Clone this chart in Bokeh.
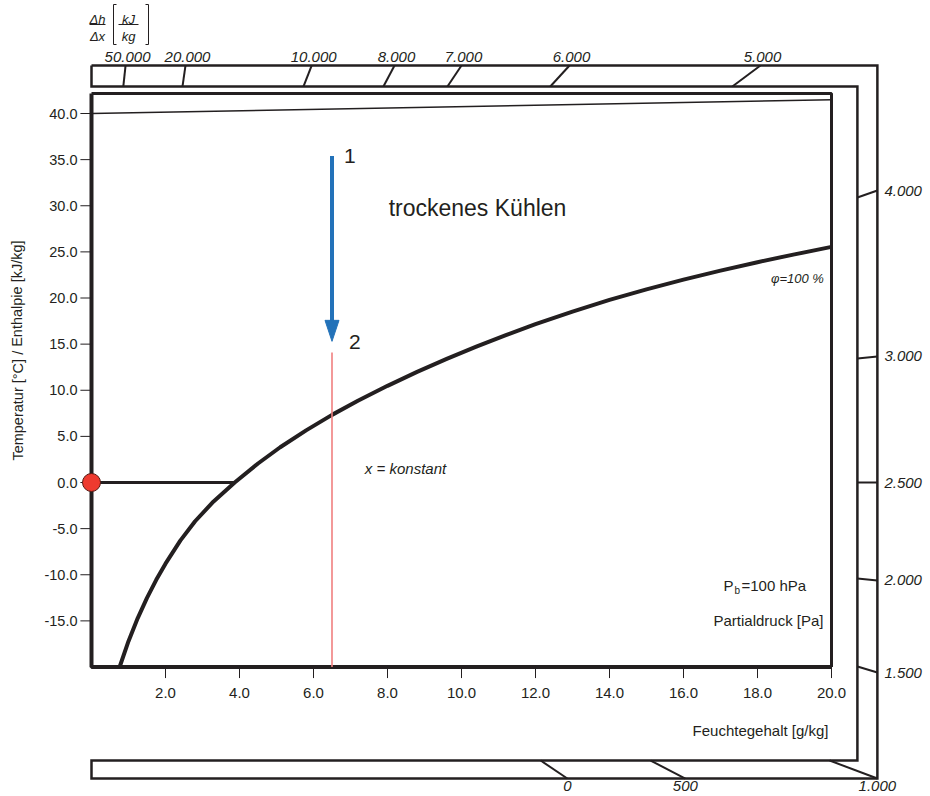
from bokeh.plotting import figure
from bokeh.models import Range1d
from bokeh.embed import file_html
from bokeh.resources import INLINE
from bokeh.core.properties import value

DARK = "#231f20"
FONT = value("Liberation Sans")

# ---------------- data ----------------
x_ticks = [2.0, 4.0, 6.0, 8.0, 10.0, 12.0, 14.0, 16.0, 18.0, 20.0]
x_tick_labels = ["2.0", "4.0", "6.0", "8.0", "10.0", "12.0", "14.0", "16.0", "18.0", "20.0"]
y_ticks = [40.0, 35.0, 30.0, 25.0, 20.0, 15.0, 10.0, 5.0, 0.0, -5.0, -10.0, -15.0]
y_tick_labels = ["40.0", "35.0", "30.0", "25.0", "20.0", "15.0", "10.0", "5.0", "0.0",
                 "-5.0", "-10.0", "-15.0"]

# saturation line phi = 100 %
sat_x = [0.76, 1.0, 1.25, 1.5, 1.75, 2.0, 2.4, 2.8, 3.3, 3.87, 4.5, 5.1, 5.8, 6.5, 7.2,
         8.0, 8.8, 9.6, 10.4, 11.2, 12.0, 13.0, 14.0, 15.0, 16.0, 17.0, 18.0, 19.0, 20.0]
sat_y = [-20.0, -17.2, -14.7, -12.5, -10.55, -8.8, -6.3, -4.2, -2.05, 0.0, 2.06, 3.82, 5.65,
         7.33, 8.86, 10.48, 11.99, 13.4, 14.73, 15.98, 17.16, 18.53, 19.79, 20.94, 21.99,
         22.97, 23.88, 24.73, 25.54]

# line at the top of the chart
top_line_x = [0.0, 20.0]
top_line_y = [40.0, 41.5]

# 0 degC line
zero_line_x = [0.0, 3.87]
zero_line_y = [0.0, 0.0]
zero_point_x = [0.0]
zero_point_y = [0.0]

# process 1 -> 2 (dry cooling, x = const)
state_x = 6.5
state1_y = 35.4
state2_y = 15.3
const_line_top = 14.1

# frame limits
x_min, x_max = 0.0, 20.0
y_min, y_max = -20.0, 42.17

# edge scales
top_scale_labels = ["50.000", "20.000", "10.000", "8.000", "7.000", "6.000", "5.000"]
top_scale_x0 = [0.86, 2.46, 5.73, 7.89, 9.62, 12.40, 17.32]
top_scale_x1 = [0.92, 2.54, 5.95, 8.19, 10.00, 12.92, 18.08]
right_scale_labels = ["4.000", "3.000", "2.500", "2.000", "1.500"]
right_scale_y0 = [30.9, 13.44, 0.0, -10.4, -19.95]
right_scale_y1 = [31.65, 13.66, 0.0, -10.62, -20.6]
bottom_scale_labels = ["0", "500", "1.000"]
bottom_scale_x0 = [12.14, 15.11, 19.95]
bottom_scale_x1 = [12.86, 16.05, 21.24]

# band geometry (data units)
band_top_outer, band_top_inner = 45.2, 42.93
band_right_inner, band_right_outer = 20.70, 21.24
band_bot_inner, band_bot_outer = -30.14, -32.09

# ---------------- figure ----------------
W, H = 930, 796
SX, SY = 37.0, 9.225          # px per data unit
X0, Y0 = 91.0, 482.0          # canvas px of data origin

def px(xpix):
    return (xpix - X0) / SX

def py(ypix):
    return (Y0 - ypix) / SY

p = figure(width=W, height=H, output_backend="svg", toolbar_location=None,
           x_range=Range1d(-X0 / SX, (W - X0) / SX),
           y_range=Range1d((Y0 - H) / SY, Y0 / SY),
           x_axis_location=None, y_axis_location=None, min_border=0)
p.outline_line_color = None
p.grid.visible = False
p.background_fill_color = "white"
p.border_fill_color = "white"

# outer scale bands
bx = [x_min, band_right_outer, band_right_outer, x_min, x_min,
      band_right_inner, band_right_inner, x_min, x_min]
by = [band_top_outer, band_top_outer, band_bot_outer, band_bot_outer, band_bot_inner,
      band_bot_inner, band_top_inner, band_top_inner, band_top_outer]
p.line(bx, by, line_color=DARK, line_width=2.5, line_join="miter")

# top scale ticks + labels
p.segment(x0=top_scale_x0, y0=[band_top_inner] * len(top_scale_x0),
          x1=top_scale_x1, y1=[band_top_outer] * len(top_scale_x1),
          line_color=DARK, line_width=2)
p.text(x=top_scale_x1, y=[band_top_outer] * len(top_scale_x1), text=top_scale_labels,
       text_font=FONT, text_font_style="italic", text_font_size="15px",
       text_color=DARK, text_align="center", text_baseline="bottom", y_offset=-4,
       x_offset=2)

# right scale ticks + labels
p.segment(x0=[band_right_inner] * len(right_scale_y0), y0=right_scale_y0,
          x1=[band_right_outer] * len(right_scale_y1), y1=right_scale_y1,
          line_color=DARK, line_width=2)
p.text(x=[band_right_outer] * len(right_scale_y1), y=right_scale_y1, text=right_scale_labels,
       text_font=FONT, text_font_style="italic", text_font_size="15px",
       text_color=DARK, text_align="left", text_baseline="middle", x_offset=7)

# bottom scale ticks + labels
p.segment(x0=bottom_scale_x0, y0=[band_bot_inner] * len(bottom_scale_x0),
          x1=bottom_scale_x1, y1=[band_bot_outer] * len(bottom_scale_x1),
          line_color=DARK, line_width=2)
p.text(x=bottom_scale_x1, y=[band_bot_outer] * len(bottom_scale_x1), text=bottom_scale_labels,
       text_font=FONT, text_font_style="italic", text_font_size="15px",
       text_color=DARK, text_align="center", text_baseline="top", y_offset=2)

# dh/dx unit label
p.text(x=[px(97), px(97)], y=[py(19), py(28)], text=["Δh", "Δx"],
       text_font=FONT, text_font_style="italic", text_font_size="13px",
       text_color=DARK, text_align="center", text_baseline=["alphabetic", "top"])
p.text(x=[px(128), px(128)], y=[py(19), py(28)], text=["kJ", "kg"],
       text_font=FONT, text_font_style="italic", text_font_size="13px",
       text_color=DARK, text_align="center", text_baseline=["alphabetic", "top"])
p.segment(x0=[px(89), px(118)], y0=[py(24), py(24)], x1=[px(105), px(138)], y1=[py(24), py(24)],
          line_color=DARK, line_width=1)
p.line([px(116), px(113), px(113), px(116)], [py(4), py(4), py(44), py(44)],
       line_color=DARK, line_width=1)
p.line([px(145), px(148), px(148), px(145)], [py(4), py(4), py(44), py(44)],
       line_color=DARK, line_width=1)

# main frame
p.line([x_min, x_max, x_max], [y_max, y_max, y_min], line_color=DARK, line_width=3)
p.line([x_min, x_min, x_max], [y_max, y_min, y_min], line_color=DARK, line_width=4)

# axis ticks
p.segment(x0=[x_min - 0.3] * len(y_ticks), y0=y_ticks, x1=[x_min] * len(y_ticks), y1=y_ticks,
          line_color=DARK, line_width=1)
p.text(x=[x_min] * len(y_ticks), y=y_ticks, text=y_tick_labels, text_font=FONT,
       text_font_size="14.5px", text_color=DARK, text_align="right",
       text_baseline="middle", x_offset=-14)
p.segment(x0=x_ticks, y0=[y_min] * len(x_ticks), x1=x_ticks, y1=[y_min - 1.2] * len(x_ticks),
          line_color=DARK, line_width=1)
p.text(x=x_ticks, y=[y_min] * len(x_ticks), text=x_tick_labels, text_font=FONT,
       text_font_size="15px", text_color=DARK, text_align="center",
       text_baseline="middle", y_offset=26)

# axis titles
p.text(x=[px(17)], y=[py(350)], text=["Temperatur [°C] / Enthalpie [kJ/kg]"],
       text_font=FONT, text_font_size="14.5px", text_color=DARK, angle=1.5708,
       text_align="center", text_baseline="middle")
p.text(x=[x_max], y=[y_min], text=["Feuchtegehalt [g/kg]"], text_font=FONT,
       text_font_size="15px", text_color=DARK, text_align="right",
       text_baseline="middle", y_offset=63, x_offset=-3)

# lines inside the chart
p.line(top_line_x, top_line_y, line_color=DARK, line_width=1.5)
p.line(sat_x, sat_y, line_color=DARK, line_width=4, line_join="round")
p.line(zero_line_x, zero_line_y, line_color=DARK, line_width=3)

# x = const line
p.segment(x0=[state_x], y0=[const_line_top], x1=[state_x], y1=[y_min],
          line_color="#f07f7f", line_width=1.6)

# arrow 1 -> 2
head_len = 21.0 / SY
head_half = 7.0 / SX
p.segment(x0=[state_x], y0=[state1_y], x1=[state_x], y1=[state2_y + head_len * 0.9],
          line_color="#2372b9", line_width=4)
p.patch([state_x - head_half, state_x + head_half, state_x],
        [state2_y + head_len, state2_y + head_len, state2_y],
        fill_color="#2372b9", line_color="#2372b9", line_width=1)

# red point at 0 degC
p.scatter(zero_point_x, zero_point_y, size=18, fill_color="#ee3a2f",
          line_color="#5a1a14", line_width=1)

# annotations
p.text(x=[state_x, state_x], y=[state1_y, state2_y], text=["1", "2"], text_font=FONT,
       text_font_size="21px", text_color=DARK, text_align="left", text_baseline="middle",
       x_offset=[12, 17], y_offset=[0, 1])
p.text(x=[px(477)], y=[py(207)], text=["trockenes Kühlen"], text_font=FONT,
       text_font_size="23px", text_color=DARK, text_align="center", text_baseline="middle")
p.text(x=[px(405)], y=[py(468)], text=["x = konstant"], text_font=FONT,
       text_font_style="italic", text_font_size="15px", text_color=DARK,
       text_align="center", text_baseline="middle")
p.text(x=[px(827)], y=[py(278)], text=["φ=100  %"], text_font=FONT,
       text_font_style="italic", text_font_size="13px", text_color=DARK,
       text_align="right", text_baseline="middle")
p.text(x=[px(723), px(734), px(741)], y=[py(585), py(590), py(585)],
       text=["P", "b", "=100 hPa"], text_font=FONT,
       text_font_size=["15px", "10px", "15px"], text_color=DARK,
       text_align="left", text_baseline="middle")
p.text(x=[px(768)], y=[py(620)], text=["Partialdruck [Pa]"], text_font=FONT,
       text_font_size="15px", text_color=DARK, text_align="center", text_baseline="middle")

open("out.html", "w").write(file_html(p, INLINE))
